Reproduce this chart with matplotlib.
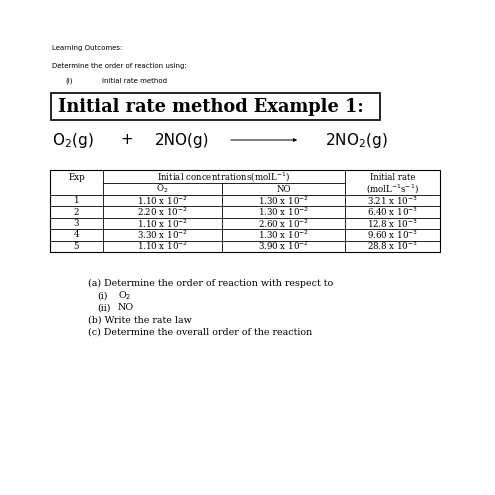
import matplotlib.pyplot as plt
from matplotlib.patches import Rectangle

exps = ["1", "2", "3", "4", "5"]
o2 = ["1.10", "2.20", "1.10", "3.30", "1.10"]
no = ["1.30", "1.30", "2.60", "1.30", "3.90"]
rate = ["3.21", "6.40", "12.8", "9.60", "28.8"]

fig = plt.figure(figsize=(4.95, 4.95), dpi=100)
ax = fig.add_axes([0, 0, 1, 1])
ax.set_xlim(0, 495)
ax.set_ylim(495, 0)
ax.axis("off")

sans = "DejaVu Sans"
serif = "DejaVu Serif"

ax.text(52, 48, "Learning Outcomes:", fontsize=5, family=sans, va="center")
ax.text(52, 66, "Determine the order of reaction using:", fontsize=5, family=sans, va="center")
ax.text(65, 81, "(i)", fontsize=5, family=sans, va="center")
ax.text(102, 81, "Initial rate method", fontsize=5, family=sans, va="center")

ax.add_patch(Rectangle((51, 93), 329, 27, fill=False, lw=1.2))
ax.text(58, 106.5, "Initial rate method Example 1:", fontsize=12.8, family=serif,
        weight="heavy", va="center")

ax.text(52, 140, r"O$_2$(g)", fontsize=11, family=sans, va="center")
ax.text(120, 140, "+", fontsize=11, family=sans, va="center")
ax.text(155, 140, "2NO(g)", fontsize=11, family=sans, va="center")
ax.annotate("", xy=(300, 140), xytext=(228, 140),
            arrowprops=dict(arrowstyle="-|>", lw=0.7, color="black", mutation_scale=5))
ax.text(325, 140, r"2NO$_2$(g)", fontsize=11, family=sans, va="center")

# table
L, R = 50, 440
c1, c2, c3 = 103, 222, 345
top, h1, h2 = 170, 183, 195
rowh = 11.4
bot = h2 + rowh * len(exps)
ax.add_patch(Rectangle((L, top), R - L, bot - top, fill=False, lw=0.8))
for x in (c1, c3):
    ax.plot([x, x], [top, bot], color="black", lw=0.6)
ax.plot([c2, c2], [h1, bot], color="black", lw=0.6)
ax.plot([c1, c3], [h1, h1], color="black", lw=0.6)
for i in range(len(exps) + 1):
    y = h2 + rowh * i
    ax.plot([L, R], [y, y], color="black", lw=0.6)

fs = 6.2
ax.text((L + c1) / 2, 177, "Exp", fontsize=fs, family=serif, ha="center", va="center")
ax.text((c1 + c3) / 2, 177, r"Initial concentrations(molL$^{-1}$)", fontsize=fs,
        family=serif, ha="center", va="center")
ax.text((c3 + R) / 2, 177, "Initial rate", fontsize=fs, family=serif, ha="center", va="center")
ax.text((c1 + c2) / 2, 189, r"O$_2$", fontsize=fs, family=serif, ha="center", va="center")
ax.text((c2 + c3) / 2, 189, "NO", fontsize=fs, family=serif, ha="center", va="center")
ax.text((c3 + R) / 2, 189, r"(molL$^{-1}$s$^{-1}$)", fontsize=fs, family=serif,
        ha="center", va="center")
for i in range(len(exps)):
    y = h2 + rowh * (i + 0.5)
    ax.text((L + c1) / 2, y, exps[i], fontsize=fs, family=serif, ha="center", va="center")
    ax.text((c1 + c2) / 2, y, o2[i] + r" x 10$^{-2}$", fontsize=fs, family=serif,
            ha="center", va="center")
    ax.text((c2 + c3) / 2, y, no[i] + r" x 10$^{-2}$", fontsize=fs, family=serif,
            ha="center", va="center")
    ax.text((c3 + R) / 2, y, rate[i] + r" x 10$^{-3}$", fontsize=fs, family=serif,
            ha="center", va="center")

qfs = 6.8
qs = [(88, 283, "(a) Determine the order of reaction with respect to"),
      (97, 296, "(i)"), (97, 308, "(ii)"),
      (88, 320, "(b) Write the rate law"),
      (88, 332, "(c) Determine the overall order of the reaction")]
for x, y, t in qs:
    ax.text(x, y, t, fontsize=qfs, family=serif, va="center")
ax.text(118, 296, r"O$_2$", fontsize=qfs, family=serif, va="center")
ax.text(118, 308, "NO", fontsize=qfs, family=serif, va="center")

fig.savefig("out.png", dpi=100, facecolor="white")
